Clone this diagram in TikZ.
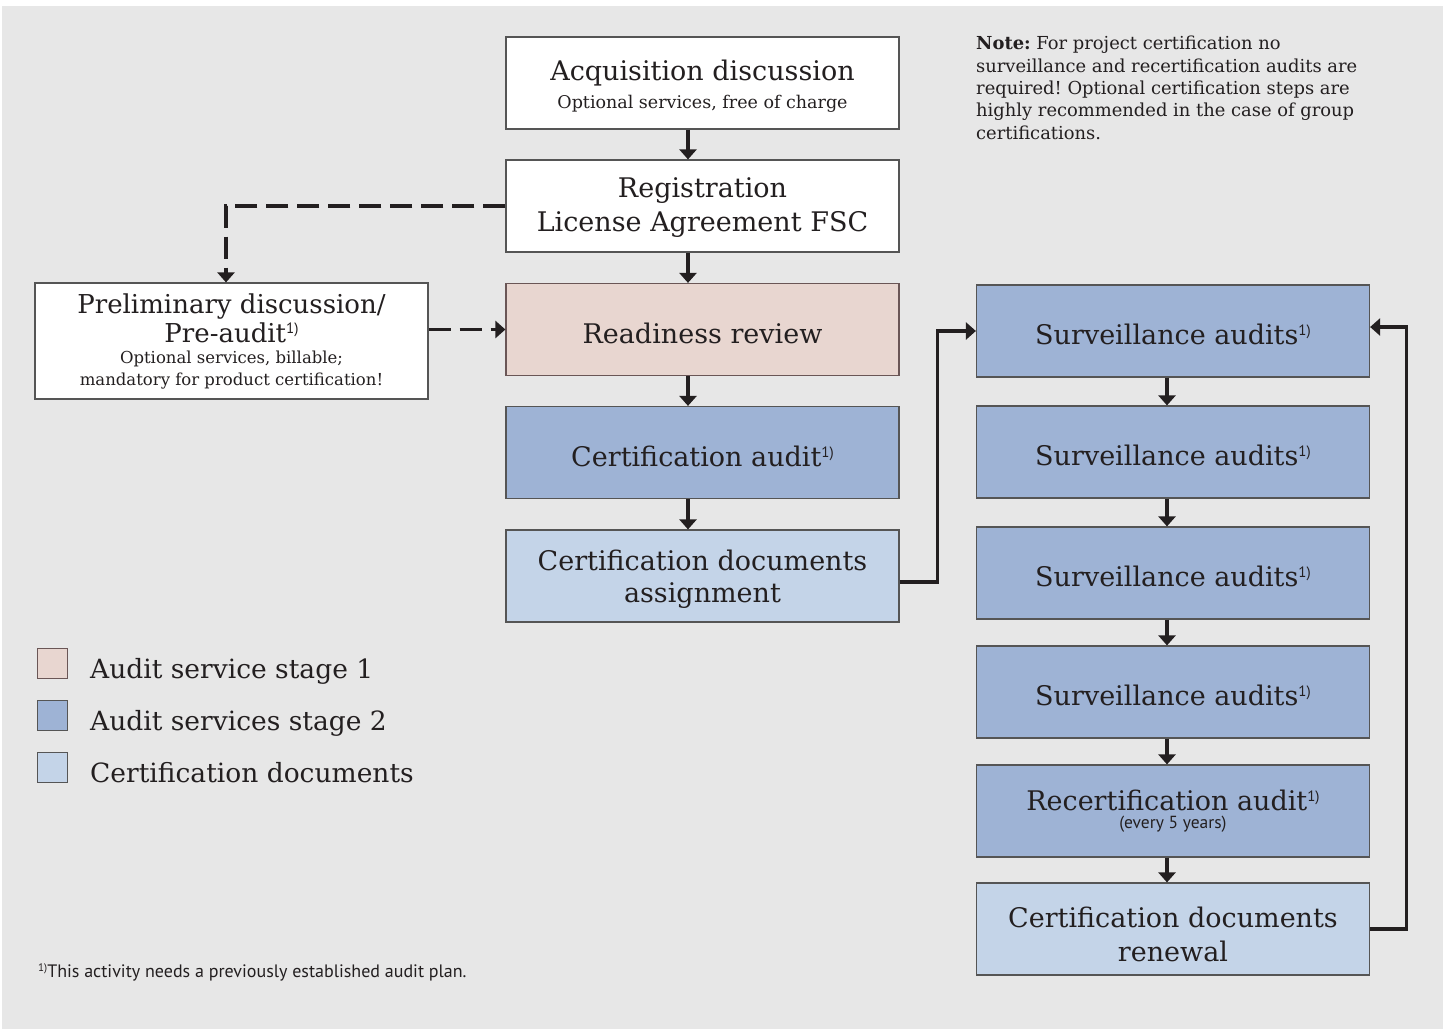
\documentclass[tikz,border=0pt]{standalone}
\usepackage{fontspec}
\setmainfont{DejaVu Serif}
\setsansfont{PT Sans}
\usetikzlibrary{arrows.meta}
\definecolor{bgc}{HTML}{E7E7E7}
\definecolor{pinkc}{HTML}{E8D6D0}
\definecolor{pinkbord}{HTML}{6A5656}
\definecolor{bluec}{HTML}{9EB3D5}
\definecolor{lbluec}{HTML}{C4D4E8}
\definecolor{bordc}{HTML}{555555}
\definecolor{txtc}{HTML}{231F20}
\newcommand\fnmk{\raisebox{9pt}{\sffamily\fontsize{15}{15}\selectfont 1)}}
\newcommand\upr[1]{\rule{0pt}{#1pt}}
\frenchspacing
\begin{document}
\begin{tikzpicture}[x=1pt,y=-1pt,
  box/.style={draw=bordc, line width=1.2pt, minimum width=393pt, minimum height=92pt,
    inner sep=0pt, align=center, text=txtc, font=\fontsize{27}{33}\selectfont},
  whitebox/.style={box, fill=white},
  pinkbox/.style={box, fill=pinkc, draw=pinkbord},
  bluebox/.style={box, fill=bluec},
  lbluebox/.style={box, fill=lbluec},
  arr/.style={draw=txtc, line width=3.2pt, -{Triangle[width=17pt,length=10pt]}},
  dasharr/.style={arr, dash pattern=on 22pt off 9pt},
  legsq/.style={draw=bordc, line width=1pt},
  legtxt/.style={anchor=base west, inner sep=0pt, text=txtc, font=\fontsize{26.5}{33}\selectfont},
]
\useasboundingbox (0,0) rectangle (1449,1029);
\fill[white] (0,0) rectangle (1449,1029);
\fill[bgc] (2,6) rectangle (1443,1029);

% centre column
\node[whitebox] (acq) at (702.5,83) {\upr{26.5}Acquisition discussion\\[-5pt]{\fontsize{17.5}{22}\selectfont Optional services, free of charge}};
\node[whitebox] (reg) at (702.5,206) {\upr{23.5}Registration\\[1pt]License Agreement FSC};
\node[pinkbox] (ready) at (702.5,329.5) {\upr{28.5}Readiness review};
\node[bluebox] (caudit) at (702.5,452.5) {\upr{28}Certification audit\fnmk};
\node[lbluebox] (cdocs) at (702.5,576) {\upr{27.5}Certification documents\\[-1pt]assignment};

% preliminary
\node[whitebox, minimum height=116pt] (prelim) at (231.5,341) {{\fontsize{26}{33}\selectfont Preliminary discussion/}\\[-4pt]{\fontsize{26}{33}\selectfont Pre-audit}\fnmk\\[-12pt]{\fontsize{16.5}{22}\selectfont Optional services, billable;}\\[-11pt]{\fontsize{16.5}{22}\selectfont mandatory for product certification!}};

% right column
\node[bluebox] (s1) at (1173,331) {\upr{28}Surveillance audits\fnmk};
\node[bluebox] (s2) at (1173,452) {\upr{28}Surveillance audits\fnmk};
\node[bluebox] (s3) at (1173,573) {\upr{28}Surveillance audits\fnmk};
\node[bluebox] (s4) at (1173,692) {\upr{28}Surveillance audits\fnmk};
\node[bluebox] (recert) at (1173,811) {Recertification audit\fnmk\\[-14.7pt]{\sffamily\fontsize{17.5}{18}\selectfont (every 5 years)}};
\node[lbluebox] (renew) at (1173,929) {\upr{31.5}Certification documents\\[1pt]renewal};

% note
\node[anchor=north west, align=left, inner sep=0pt, text=txtc, font=\fontsize{17.9}{22.3}\selectfont] (note) at (976,36)
 {\textbf{Note:} For project certification no\\surveillance and recertification audits are\\required! Optional certification steps are\\highly recommended in the case of group\\certifications.};

% connectors
\coordinate (cx) at (688,0);
\coordinate (rx) at (1167,0);
\coordinate (dx) at (226,0);
\draw[arr] (acq.south -| cx) -- (reg.north -| cx);
\draw[arr] (reg.south -| cx) -- (ready.north -| cx);
\draw[arr] (ready.south -| cx) -- (caudit.north -| cx);
\draw[arr] (caudit.south -| cx) -- (cdocs.north -| cx);
\draw[arr] (s1.south -| rx) -- (s2.north -| rx);
\draw[arr] (s2.south -| rx) -- (s3.north -| rx);
\draw[arr] (s3.south -| rx) -- (s4.north -| rx);
\draw[arr] (s4.south -| rx) -- (recert.north -| rx);
\draw[arr] (recert.south -| rx) -- (renew.north -| rx);
\draw[dasharr] (reg.west) -| (prelim.north -| dx);
\draw[dasharr] (prelim.east |- ready.west) -- (ready.west);
\draw[arr] ([yshift=-6pt]cdocs.east) -- ++(38,0) |- (s1.west);
\draw[arr] (renew.east) -- ++(36,0) |- ([yshift=4pt]s1.east);

% legend
\draw[legsq, fill=pinkc, draw=pinkbord] (37,648) rectangle (67,678);
\draw[legsq, fill=bluec] (37,700) rectangle (67,730);
\draw[legsq, fill=lbluec] (37,752) rectangle (67,782);
\node[legtxt] (l1) at (90,678) {Audit service stage 1};
\node[legtxt] (l2) at (90,730) {Audit services stage 2};
\node[legtxt] (l3) at (90,782) {Certification documents};

% footnote
\node[anchor=base west, inner sep=0pt, text=txtc, font=\sffamily\fontsize{18}{20}\selectfont] (fn) at (38,977) {\raisebox{6pt}{\fontsize{11}{11}\selectfont 1)}This activity needs a previously established audit plan.};
\end{tikzpicture}
\end{document}
